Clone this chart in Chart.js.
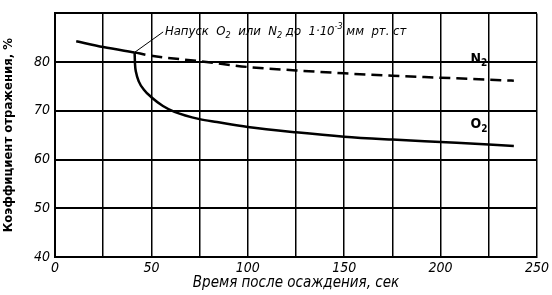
<!DOCTYPE html>
<html>
<head>
<meta charset="utf-8">
<script src="https://cdn.jsdelivr.net/npm/chart.js@4.4.1/dist/chart.umd.min.js"></script>
<style>
  html, body { margin: 0; padding: 0; background: #fff; }
  canvas { display: block; }
</style>
</head>
<body>
<canvas id="c" width="552" height="295"></canvas>
<script>
// ---- Data ----
const xTitle = 'Время после осаждения, сек';
const yTitle = 'Коэффициент отражения, %';
const xTickLabels = [0, 50, 100, 150, 200, 250];
const yTickLabels = [40, 50, 60, 70, 80];

// common part before gas admission
const xCommon = [11, 25, 41.3];
const yCommon = [84.3, 83.1, 82.0];

// N2 (dashed)
const xN2 = [41.3, 50, 75, 100, 125, 150, 175, 200, 225, 238];
const yN2 = [82.0, 81.3, 80.2, 79.0, 78.3, 77.7, 77.2, 76.8, 76.4, 76.2];

// O2 (solid)
const xO2 = [41.3, 41.5, 42.1, 43.5, 46, 50, 56, 62, 75, 84, 100, 125, 150, 175, 200, 225, 238];
const yO2 = [82.0, 79.6, 77.8, 76.0, 74.4, 72.8, 71.0, 69.8, 68.3, 67.7, 66.7, 65.6, 64.7, 64.1, 63.6, 63.1, 62.8];

// leader line of the annotation (data units)
const xLeader = [41.3, 56.1];
const yLeader = [82.0, 86.2];

// annotation and curve labels (anchor in data units)
const noteAnchor = { x: 57, y: 85.6 };
const n2Anchor = { x: 215.5, y: 79.9 };
const o2Anchor = { x: 215.5, y: 66.4 };

const pts = (xs, ys) => xs.map((x, i) => ({ x: x, y: ys[i] }));

const FONT = '"Liberation Sans Narrow", "DejaVu Sans Condensed", "Liberation Sans", sans-serif';

function drawRich(ctx, segs, x, y, size, style) {
  let cx = x;
  for (const s of segs) {
    const fs = (s.sub || s.sup) ? Math.round(size * 0.72) : size;
    ctx.font = style + ' ' + fs + 'px ' + FONT;
    const dy = s.sub ? size * 0.25 : (s.sup ? -size * 0.45 : 0);
    ctx.fillText(s.t, cx, y + dy);
    cx += ctx.measureText(s.t).width;
  }
}

const textPlugin = {
  id: 'texts',
  afterDatasetsDraw(chart) {
    const ctx = chart.ctx;
    const xs = chart.scales.x, ys = chart.scales.y;
    ctx.save();
    ctx.fillStyle = '#000';
    ctx.textBaseline = 'alphabetic';
    ctx.textAlign = 'left';
    drawRich(ctx, [
      { t: 'Напуск  O' }, { t: '2', sub: true }, { t: '  или  N' }, { t: '2', sub: true },
      { t: ' до  1·10' }, { t: '-3', sup: true }, { t: ' мм  рт. ст' }
    ], xs.getPixelForValue(noteAnchor.x), ys.getPixelForValue(noteAnchor.y), 13, 'italic');
    drawRich(ctx, [{ t: 'N' }, { t: '2', sub: true }],
      xs.getPixelForValue(n2Anchor.x), ys.getPixelForValue(n2Anchor.y), 14, 'bold');
    drawRich(ctx, [{ t: 'O' }, { t: '2', sub: true }],
      xs.getPixelForValue(o2Anchor.x), ys.getPixelForValue(o2Anchor.y), 14, 'bold');
    ctx.restore();
  }
};

new Chart(document.getElementById('c'), {
  type: 'line',
  data: {
    datasets: [
      { data: pts(xCommon, yCommon), borderColor: '#000', borderWidth: 2.5, pointRadius: 0, cubicInterpolationMode: 'monotone' },
      { data: pts(xN2, yN2), borderColor: '#000', borderWidth: 2.5, borderDash: [11, 6], pointRadius: 0, cubicInterpolationMode: 'monotone' },
      { data: pts(xO2, yO2), borderColor: '#000', borderWidth: 2.5, pointRadius: 0, cubicInterpolationMode: 'monotone' },
      { data: pts(xLeader, yLeader), borderColor: '#000', borderWidth: 1, pointRadius: 0 }
    ]
  },
  plugins: [textPlugin],
  options: {
    responsive: false,
    devicePixelRatio: 1,
    animation: false,
    layout: { padding: { top: 4, right: 7, left: 0, bottom: 0 } },
    plugins: { legend: { display: false }, tooltip: { enabled: false } },
    scales: {
      x: {
        type: 'linear', min: 0, max: 250,
        afterFit(s) { s.height = 38; },
        ticks: {
          stepSize: 25, color: '#000', padding: 3, maxRotation: 0,
          font: { family: FONT, size: 14, style: 'italic' },
          callback: v => xTickLabels.includes(v) ? String(v) : ''
        },
        grid: { color: '#000', lineWidth: 1.5, drawTicks: false },
        border: { color: '#000', width: 2 },
        title: { display: true, text: xTitle, color: '#000', padding: { top: 0, bottom: 3 },
          font: { family: FONT, size: 15, style: 'italic' } }
      },
      y: {
        type: 'linear', min: 40, max: 90,
        afterFit(s) { s.width = 55; },
        ticks: {
          stepSize: 10, color: '#000', padding: 5,
          font: { family: FONT, size: 14, style: 'italic' },
          callback: v => yTickLabels.includes(v) ? String(v) : ''
        },
        grid: { color: '#000', lineWidth: 2, drawTicks: false },
        border: { color: '#000', width: 2 },
        title: { display: true, text: yTitle, color: '#000', padding: { top: 1, bottom: 0 },
          font: { family: FONT, size: 13, weight: 'bold' } }
      }
    }
  }
});
</script>
</body>
</html>
